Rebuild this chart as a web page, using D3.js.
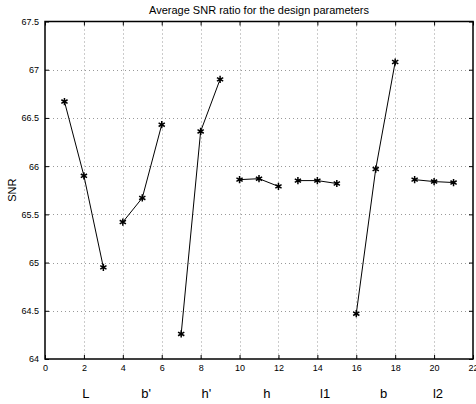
<!DOCTYPE html>
<html>
<head>
<meta charset="utf-8">
<script src="https://cdn.jsdelivr.net/npm/d3@7"></script>
<style>
  body { margin: 0; background: #fff; }
  svg { display: block; font-family: "Liberation Sans", Arial, sans-serif; }
</style>
</head>
<body>
<div id="chart"></div>
<script>
// design-parameter levels (x) and average SNR (y)
const levels = d3.range(1, 22);
const snr = [66.67, 65.90, 64.95, 65.42, 65.67, 66.43, 64.26, 66.36, 66.90,
             65.86, 65.87, 65.79, 65.85, 65.85, 65.82, 64.47, 65.97, 67.08,
             65.86, 65.84, 65.83];
const groups = ["L", "b'", "h'", "h", "l1", "b", "l2"];
const groupLabelX = [2.1, 5.2, 8.3, 11.4, 14.4, 17.4, 20.2];
const xTicks = d3.range(0, 23, 2);
const yTicks = [64, 64.5, 65, 65.5, 66, 66.5, 67, 67.5];

const width = 476, height = 404;
const margin = { top: 21.5, right: 3, bottom: 45, left: 45 };

const svg = d3.select("#chart").append("svg")
  .attr("width", width)
  .attr("height", height);

const x = d3.scaleLinear().domain([0, 22]).range([margin.left, width - margin.right]);
const y = d3.scaleLinear().domain([64, 67.5]).range([height - margin.bottom, margin.top]);

// grid
const grid = svg.append("g")
  .attr("stroke", "#999")
  .attr("stroke-width", 1)
  .attr("stroke-dasharray", "1,3");
grid.selectAll("line.v")
  .data(xTicks.slice(1, -1))
  .join("line")
  .attr("x1", d => Math.round(x(d)) + 0.5).attr("x2", d => Math.round(x(d)) + 0.5)
  .attr("y1", y(67.5)).attr("y2", y(64));
grid.selectAll("line.h")
  .data(yTicks.slice(1, -1))
  .join("line")
  .attr("y1", d => Math.round(y(d)) + 0.5).attr("y2", d => Math.round(y(d)) + 0.5)
  .attr("x1", x(0)).attr("x2", x(22));

// axes (ticks inward)
svg.append("g")
  .attr("transform", `translate(0,${y(64)})`)
  .call(d3.axisBottom(x).tickValues(xTicks).tickSize(-4).tickPadding(6).tickFormat(d3.format("d")))
  .call(g => g.select(".domain").remove());
svg.append("g")
  .attr("transform", `translate(0,${y(67.5)})`)
  .call(d3.axisTop(x).tickValues(xTicks).tickSize(-4).tickFormat(""))
  .call(g => g.select(".domain").remove());
svg.append("g")
  .attr("transform", `translate(${x(0)},0)`)
  .call(d3.axisLeft(y).tickValues(yTicks).tickSize(-4).tickPadding(6).tickFormat(d => d))
  .call(g => g.select(".domain").remove());
svg.append("g")
  .attr("transform", `translate(${x(22)},0)`)
  .call(d3.axisRight(y).tickValues(yTicks).tickSize(-4).tickFormat(""))
  .call(g => g.select(".domain").remove());

svg.selectAll(".tick text").attr("font-size", 9).attr("fill", "#000")
  .attr("font-family", "Liberation Sans, Arial, sans-serif");
svg.selectAll(".tick line").attr("stroke", "#000");

// frame
svg.append("rect")
  .attr("x", x(0)).attr("y", y(67.5))
  .attr("width", x(22) - x(0)).attr("height", y(64) - y(67.5))
  .attr("fill", "none").attr("stroke", "#000").attr("stroke-width", 1.5);

// one line per parameter (three levels each)
const pts = levels.map((l, i) => ({ x: l, y: snr[i], g: Math.floor(i / 3) }));
const line = d3.line().x(d => x(d.x)).y(d => y(d.y));
svg.append("g").selectAll("path")
  .data(d3.groups(pts, d => d.g).map(d => d[1]))
  .join("path")
  .attr("d", line)
  .attr("fill", "none")
  .attr("stroke", "#000")
  .attr("stroke-width", 1);

// asterisk markers
const star = d3.symbol().type(d3.symbolAsterisk).size(36);
svg.append("g").selectAll("path")
  .data(pts)
  .join("path")
  .attr("transform", d => `translate(${x(d.x)},${y(d.y)})`)
  .attr("d", star)
  .attr("fill", "none")
  .attr("stroke", "#000")
  .attr("stroke-width", 1.5);

// parameter names below the axis
svg.append("g").selectAll("text")
  .data(groups)
  .join("text")
  .attr("x", (d, i) => x(groupLabelX[i]))
  .attr("y", 398)
  .attr("text-anchor", "middle")
  .attr("font-size", 13)
  .text(d => d);

// title and y label
svg.append("text")
  .attr("x", (x(0) + x(22)) / 2)
  .attr("y", 14)
  .attr("text-anchor", "middle")
  .attr("font-size", 11)
  .text("Average SNR ratio for the design parameters");
svg.append("text")
  .attr("transform", `translate(16,${(y(64) + y(67.5)) / 2}) rotate(-90)`)
  .attr("text-anchor", "middle")
  .attr("font-size", 11)
  .text("SNR");
</script>
</body>
</html>
